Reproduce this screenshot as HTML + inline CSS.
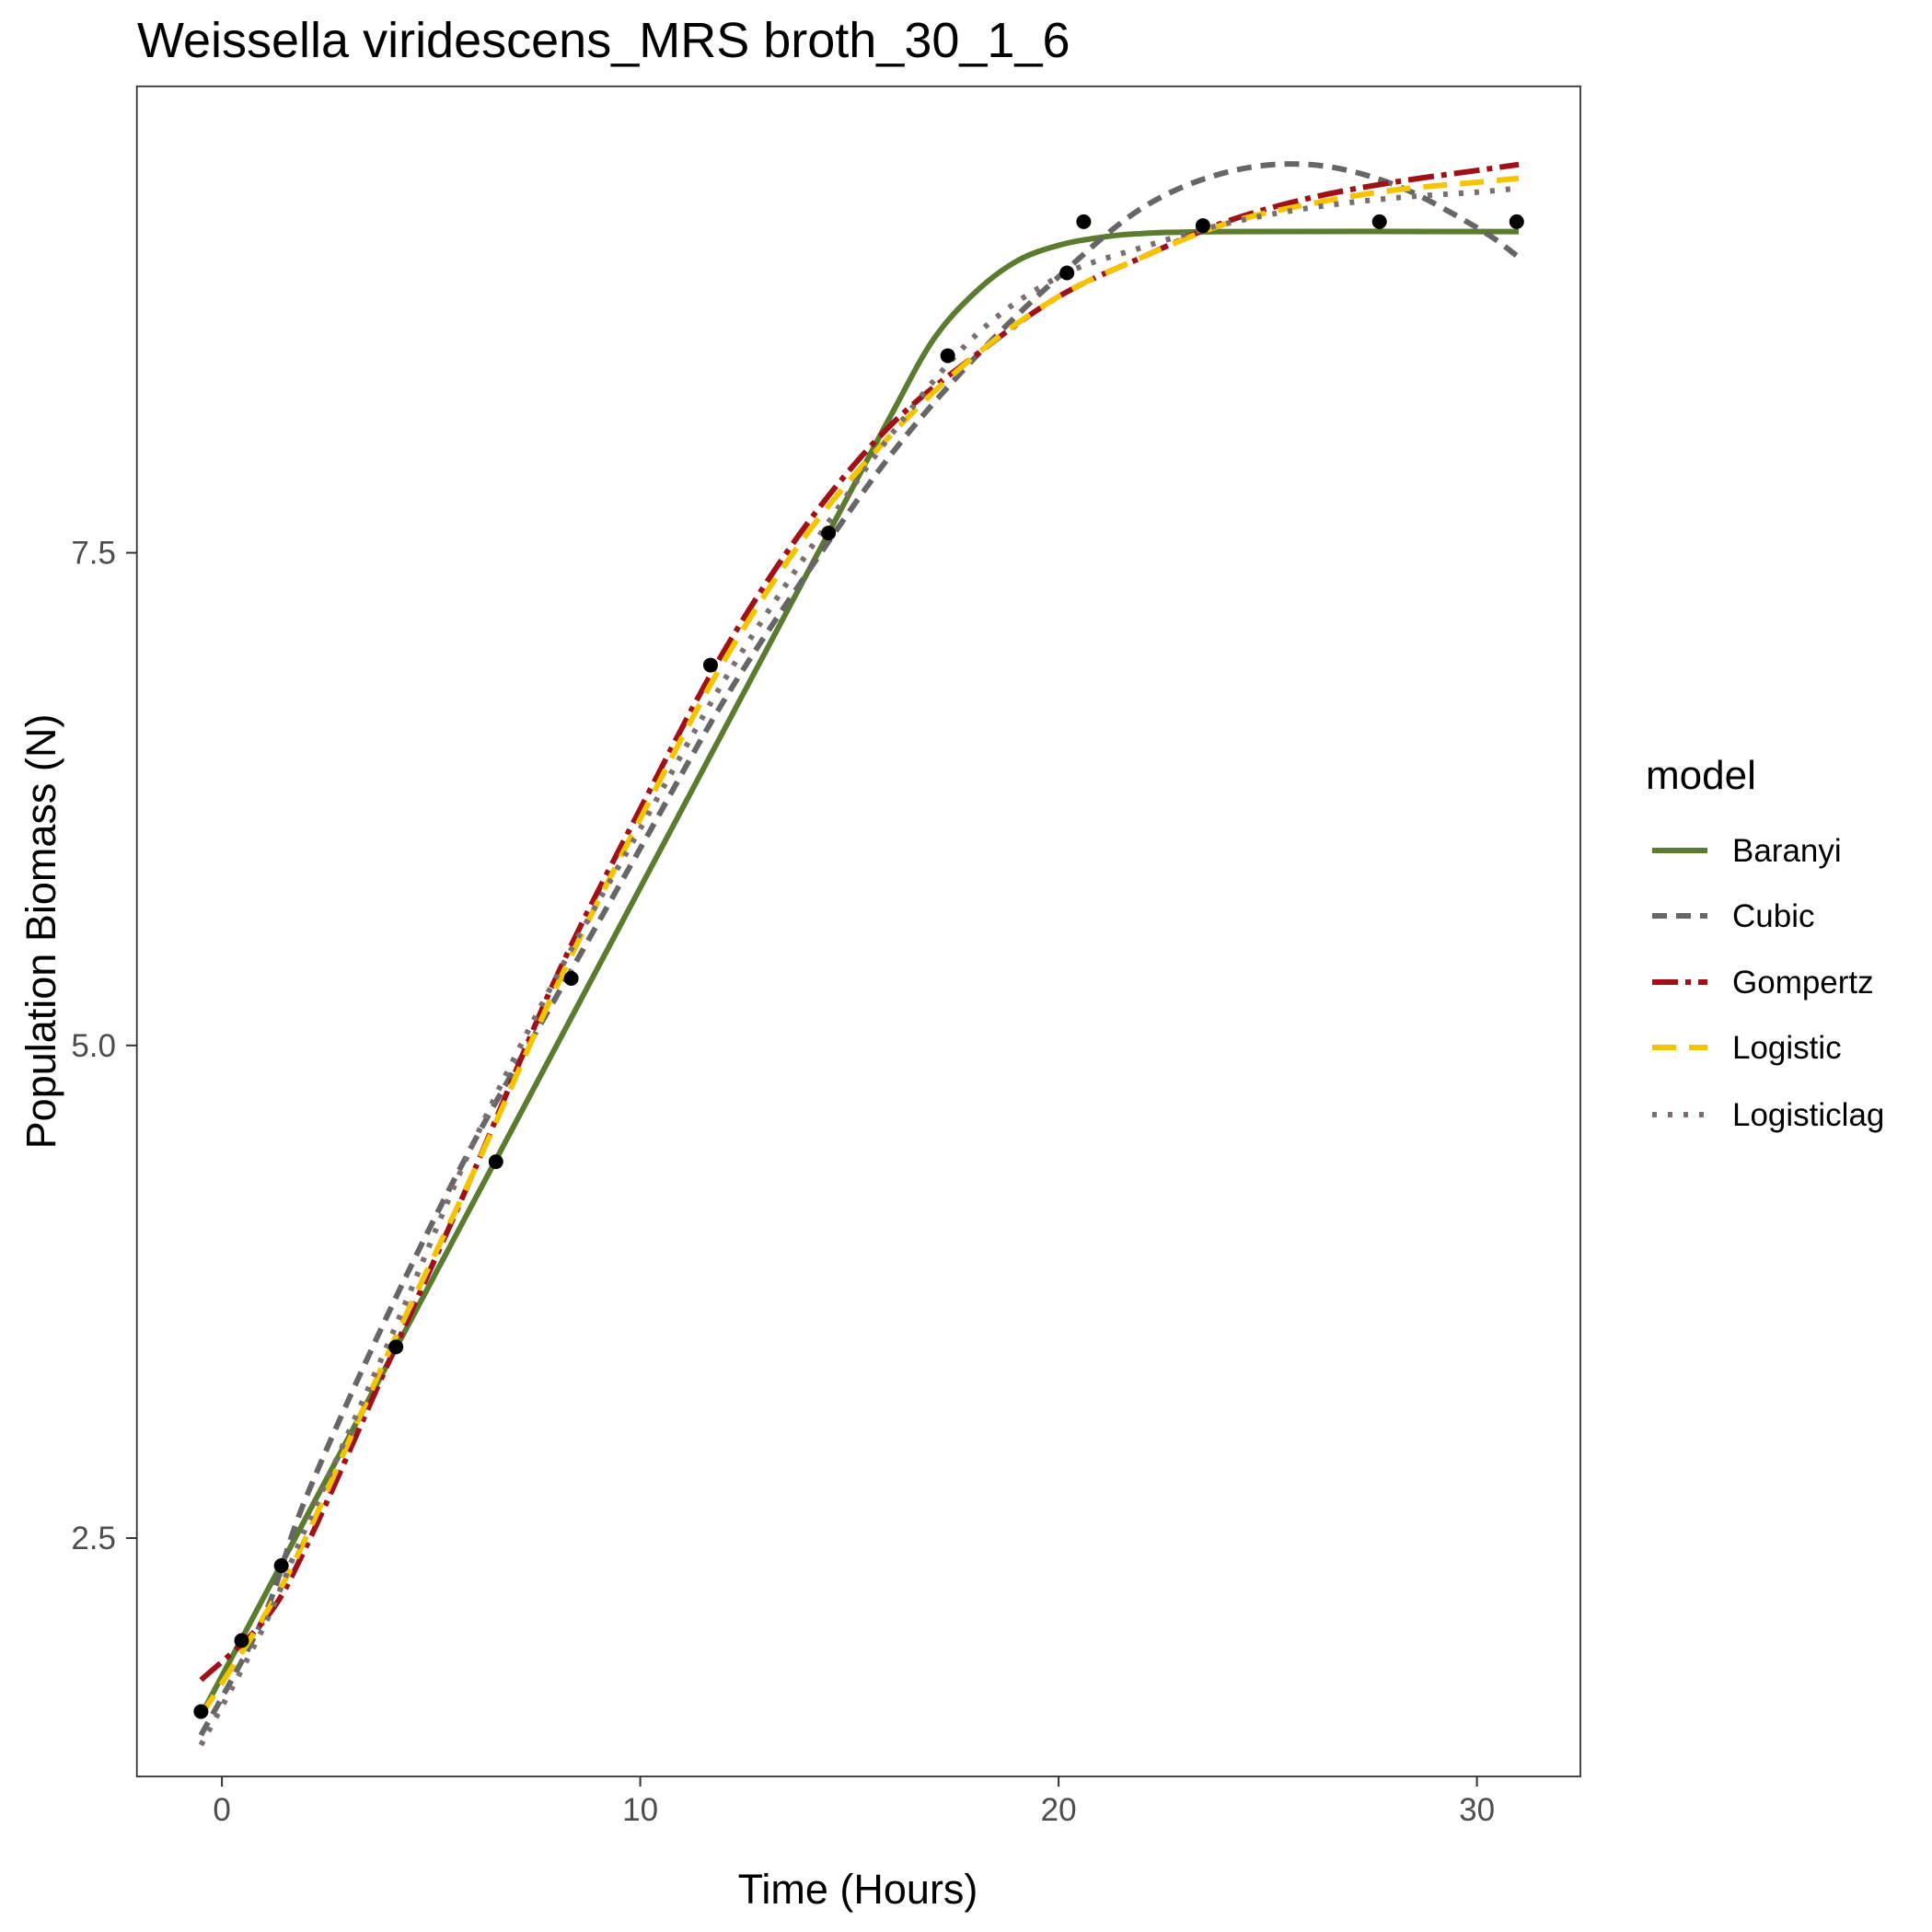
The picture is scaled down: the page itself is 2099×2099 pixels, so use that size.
<!DOCTYPE html>
<html><head><meta charset="utf-8"><style>
html,body{margin:0;padding:0;background:#fff;}
svg{display:block;font-family:"Liberation Sans",Arial,sans-serif;}
</style></head><body>
<svg id="chart" width="2099" height="2099" viewBox="0 0 2099 2099" xmlns="http://www.w3.org/2000/svg">
<text x="149" y="62" font-size="54" fill="#000">Weissella viridescens_MRS broth_30_1_6</text>
<rect x="148.7" y="93.8" width="1568.3" height="1836.2" fill="#fff" stroke="#333" stroke-width="1.8"/>
<g id="axes"></g>
<g id="series"></g>
<g id="points"></g>
<text x="932" y="2068" font-size="45" text-anchor="middle" fill="#000">Time (Hours)</text>
<text transform="translate(60,1012) rotate(-90)" font-size="45" text-anchor="middle" fill="#000">Population Biomass (N)</text>
<g id="legend">
<text x="1788" y="857" font-size="44" fill="#000">model</text>
</g>
</svg>
<script>
const xTicks=[0,10,20,30];
const yTicks=[2.5,5.0,7.5];
const yTickLabels=["2.5","5.0","7.5"];
const obsTime=[-0.5,0.47,1.42,4.16,6.55,8.35,11.68,14.5,17.35,20.2,20.6,23.45,27.67,30.95];
const obsN=[1.62,1.98,2.36,3.47,4.41,5.34,6.93,7.60,8.50,8.92,9.18,9.16,9.18,9.18];
const tBaranyi=[-0.5,0,2,4,6,8,10,12,14,15,16,17,18,19,20,21,22,24,31];
const nBaranyi=[1.6,1.8,2.6,3.4,4.2,5.0,5.8,6.6,7.4,7.8,8.2,8.58,8.82,8.98,9.06,9.1,9.12,9.13,9.13];
const tModel=[-0.5,1,2,4,6,8,10,12,14,16,18,20,22,24,26,28,30,31];
const nCubic=[1.5,2.1,2.7,3.65,4.5,5.25,6.0,6.75,7.4,8.0,8.49,8.9,9.25,9.43,9.47,9.37,9.15,9.0];
const nGompertz=[1.78,2.08,2.45,3.4,4.35,5.35,6.2,7.0,7.65,8.15,8.5,8.8,9.0,9.18,9.3,9.38,9.44,9.47];
const nLogistic=[1.6,2.1,2.5,3.45,4.35,5.3,6.15,6.95,7.6,8.1,8.5,8.8,9.0,9.17,9.27,9.34,9.38,9.4];
const nLogisticlag=[1.45,2.05,2.55,3.5,4.5,5.35,6.1,6.85,7.5,8.1,8.6,8.9,9.05,9.17,9.25,9.3,9.33,9.35];
const NS="http://www.w3.org/2000/svg";
function xs(t){return 241.1+t*45.45;}
function ys(v){return 1135.8-(v-5)*214.1;}
function mk(tag,attrs,parent){const e=document.createElementNS(NS,tag);for(const k in attrs)e.setAttribute(k,attrs[k]);parent.appendChild(e);return e;}
const axes=document.getElementById('axes');
xTicks.forEach(t=>{
  const l=mk('line',{x1:xs(t),x2:xs(t),y1:1930,y2:1941,stroke:'#333','stroke-width':2},axes);
  
  
  const tx=mk('text',{x:xs(t),y:1978,'font-size':35,'text-anchor':'middle',fill:'#4d4d4d'},axes);
  tx.textContent=String(t);
  
  
});
yTicks.forEach((v,i)=>{
  const l=mk('line',{x1:137,x2:148.7,y1:ys(v),y2:ys(v),stroke:'#333','stroke-width':2},axes);
  
  
  const tx=mk('text',{x:126,y:ys(v)+12,'font-size':35,'text-anchor':'end',fill:'#4d4d4d'},axes);
  tx.textContent=yTickLabels[i];
  
  
});
function pathFor(ts,vs){
  const p=ts.map((t,i)=>[xs(t),ys(vs[i])]);
  let d='M'+p[0][0]+','+p[0][1];
  for(let i=0;i<p.length-1;i++){
    const p0=p[i-1]||p[i],p1=p[i],p2=p[i+1],p3=p[i+2]||p2;
    const c1=[p1[0]+(p2[0]-p0[0])/6,p1[1]+(p2[1]-p0[1])/6];
    const c2=[p2[0]-(p3[0]-p1[0])/6,p2[1]-(p3[1]-p1[1])/6];
    d+=' C'+c1+' '+c2+' '+p2;
  }
  return d;
}
const series=[
 {name:'Baranyi',t:tBaranyi,v:nBaranyi,color:'#5b7b2e',dash:''},
 {name:'Cubic',t:tModel,v:nCubic,color:'#666666',dash:'16 10'},
 {name:'Gompertz',t:tModel,v:nGompertz,color:'#a01019',dash:'28 8 6 8'},
 {name:'Logistic',t:tModel,v:nLogistic,color:'#f5c400',dash:'26 14'},
 {name:'Logisticlag',t:tModel,v:nLogisticlag,color:'#7a6e6e',dash:'5 12'}
];
const sg=document.getElementById('series');
series.forEach(s=>{
  const a={d:pathFor(s.t,s.v),fill:'none',stroke:s.color,'stroke-width':6};
  if(s.dash)a['stroke-dasharray']=s.dash;
  const p=mk('path',a,sg);
  
  
});
const pg=document.getElementById('points');
obsTime.forEach((t,i)=>{
  const c=mk('circle',{cx:xs(t),cy:ys(obsN[i]),r:8,fill:'#000'},pg);
  
  
});
const lg=document.getElementById('legend');
const legY=[924,995,1067,1138,1211];
series.forEach((s,i)=>{
  const a={x1:1795,x2:1855,y1:legY[i],y2:legY[i],stroke:s.color,'stroke-width':6};
  if(s.dash)a['stroke-dasharray']=s.dash;
  const l=mk('line',a,lg);
  
  
  const tx=mk('text',{x:1882,y:legY[i]+12,'font-size':35,fill:'#000'},lg);
  tx.textContent=s.name;
  
  
});
</script>
</body></html>
